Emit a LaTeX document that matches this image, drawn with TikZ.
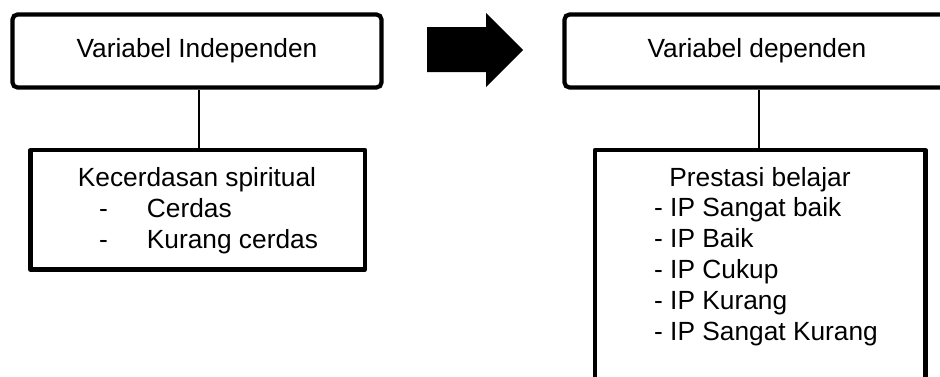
\documentclass[tikz,border=0pt]{standalone}
\usepackage{fontspec}
\setmainfont{Liberation Sans}
\usetikzlibrary{positioning,calc}

\tikzset{
  varbox/.style={
    draw=black,
    line width=4.2pt,
    rounded corners=5pt,
    inner sep=0pt,
    font=\fontsize{26.3}{31}\selectfont
  },
  listbox/.style={
    draw=black,
    line width=4.2pt,
    line join=round,
    inner sep=0pt
  },
  txt/.style={inner sep=0pt, font=\fontsize{26.3}{31}\selectfont},
  link/.style={line width=1.3pt}
}

\begin{document}
\begin{tikzpicture}[x=1pt,y=-1pt]
  \clip (0,0) rectangle (940,376);
  % top row
  \node[varbox, minimum width=369pt, minimum height=73pt] (indep) at (197,51) {Variabel Independen};
  \node[varbox, minimum width=385pt, minimum height=73pt] (dep) at (757,51) {Variabel dependen};
  % lower boxes
  \node[listbox, minimum width=334.5pt, minimum height=119.5pt] (kecerdasan) at (197.75,209.75) {};
  \node[listbox, minimum width=330.5pt, minimum height=250pt] (prestasi) at (760.25,275) {};
  % block arrow
  \fill[black] (427,27) -- (486,27) -- (486,13) -- (523,50) -- (486,87) -- (486,72) -- (427,72) -- cycle;
  % connectors
  \draw[link] ($(indep.south)+(2,0)$) -- ($(indep.south |- kecerdasan.north)+(2,0)$);
  \draw[link] ($(dep.south)+(2,0)$) -- ($(dep.south |- prestasi.north)+(2,0)$);
  % texts
  \node[txt, anchor=base] (kt) at (197,186) {Kecerdasan spiritual};
  \foreach \lbl [count=\i] in {Cerdas, Kurang cerdas} {
    \node[txt, anchor=base west] (kd\i) at (99,186+31*\i) {-};
    \node[txt, anchor=base west] (kl\i) at (146.7,186+31*\i) {\lbl};
  }
  \node[txt, anchor=base] (pt) at (760,186) {Prestasi belajar};
  \foreach \lbl [count=\i] in {IP Sangat baik, IP Baik, IP Cukup, IP Kurang, IP Sangat Kurang}
    \node[txt, anchor=base west] (ip\i) at (654,186+30.8*\i) {- \lbl};
\end{tikzpicture}
\end{document}
